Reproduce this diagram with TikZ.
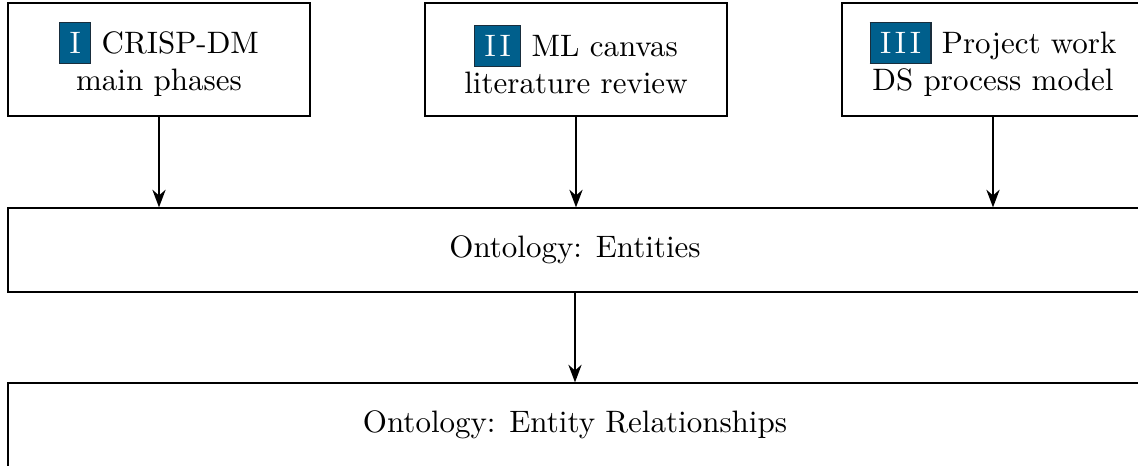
\documentclass[tikz,border=0pt]{standalone}
\usepackage{fontspec}
\usetikzlibrary{arrows.meta}

\definecolor{tagblue}{RGB}{0,95,140}
\definecolor{tagedge}{RGB}{25,45,60}

% White roman numeral on a blue tag, used in the source boxes
\newcommand\phasetag[1]{{\setlength\fboxsep{3pt}\setlength\fboxrule{0.4pt}%
  \fcolorbox{tagedge}{tagblue}{\color{white}#1}}}

\tikzset{
  source/.style={draw, align=center, inner sep=0pt,
    minimum width={302*0.3226pt}, minimum height={113*0.3226pt}},
  layer/.style={draw, align=center, inner sep=0pt,
    minimum width={1134*0.3226pt}, minimum height={84*0.3226pt}},
  flow/.style={-{Stealth}, semithick},
}

\begin{document}
\begin{tikzpicture}[x=0.3226pt, y=-0.3226pt]
  \useasboundingbox (0,0) rectangle (1138,465);
  \clip (0,0) rectangle (1138,465);

  % three input sources
  \node[source] (crisp)   at (159,59.5) {\phasetag{I} CRISP-DM\\main phases};
  \node[source] (canvas)  at (576,59.5) {\phasetag{I\kern1.2pt I} ML canvas\\literature review};
  \node[source] (project) at (993,59.5) {\phasetag{I\kern1.2pt I\kern1.2pt I} Project work\\DS process model};

  % ontology layers
  \node[layer] (entities) at (575,250) {Ontology: Entities};
  \node[layer] (relations) at (575,425) {Ontology: Entity Relationships};

  % flows
  \draw[flow] (crisp.south)   -- (crisp.south |- entities.north);
  \draw[flow] (canvas.south)  -- (canvas.south |- entities.north);
  \draw[flow] (project.south) -- (project.south |- entities.north);
  \draw[flow] (entities.south) -- (relations.north);
\end{tikzpicture}
\end{document}
